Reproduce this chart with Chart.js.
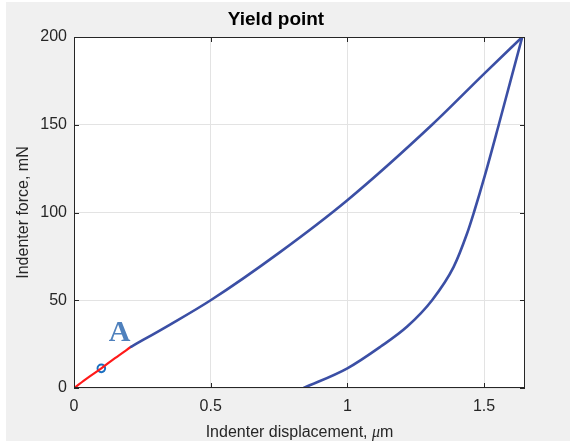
<!DOCTYPE html>
<html>
<head>
<meta charset="utf-8">
<script src="https://cdn.jsdelivr.net/npm/chart.js@4.4.1/dist/chart.umd.min.js"></script>
<style>
  html, body { margin: 0; padding: 0; background: #ffffff; }
  #wrap { width: 570px; height: 444px; position: relative; }
</style>
</head>
<body>
<div id="wrap"><canvas id="c" width="570" height="444"></canvas></div>
<script>
// Indentation load–displacement record (displacement in µm, force in mN)
const loadElasticX = [0, 0.05, 0.1, 0.15, 0.209];
const loadElasticY = [0, 5.8, 11.2, 17.0, 23.5];

const loadPlasticX = [0.209, 0.35, 0.5, 0.75, 1.0, 1.31, 1.5, 1.64];
const loadPlasticY = [23.5, 36, 50, 77, 107, 150, 179, 200];

const unloadX = [0.84, 1.0, 1.121, 1.219, 1.31, 1.389, 1.438, 1.463, 1.503, 1.554, 1.597, 1.64];
const unloadY = [0, 11.2, 23.5, 35, 50, 69, 88, 100, 121, 150, 175, 200];

const yieldX = [0.1];
const yieldY = [11.2];

const xTickValues = [0, 0.5, 1, 1.5];
const yTickValues = [0, 50, 100, 150, 200];

const titleText = 'Yield point';
const yLabelText = 'Indenter force, mN';
const xLabelParts = ['Indenter displacement, ', 'μ', 'm'];
const markerText = 'A';
const markerAt = { x: 0.167, y: 33 };

const toPoints = (xs, ys) => xs.map((x, i) => ({ x: x, y: ys[i] }));

const SANS = "'Liberation Sans', Arial, Helvetica, sans-serif";
const INK = '#262626';

const figurePlugin = {
  id: 'figure',
  beforeDraw(chart) {
    const { ctx, chartArea: a } = chart;
    ctx.save();
    ctx.fillStyle = '#ffffff';
    ctx.fillRect(0, 0, chart.width, chart.height);
    ctx.fillStyle = '#f0f0f0';
    ctx.fillRect(6, 2, chart.width - 6, 439);
    ctx.fillStyle = '#ffffff';
    ctx.fillRect(a.left, a.top, a.right - a.left, a.bottom - a.top);
    ctx.restore();
  },
  afterDraw(chart) {
    const { ctx, chartArea: a } = chart;
    const xs = chart.scales.x, ys = chart.scales.y;
    ctx.save();
    // axes box
    ctx.strokeStyle = INK;
    ctx.lineWidth = 1;
    ctx.strokeRect(Math.round(a.left) + 0.5, Math.round(a.top) + 0.5,
                   Math.round(a.right - a.left) - 1, Math.round(a.bottom - a.top) - 1);
    // inward tick marks on all four sides
    const L = 5;
    ctx.beginPath();
    xTickValues.forEach(v => {
      const px = Math.round(xs.getPixelForValue(v)) + 0.5;
      ctx.moveTo(px, a.bottom); ctx.lineTo(px, a.bottom - L);
      ctx.moveTo(px, a.top); ctx.lineTo(px, a.top + L);
    });
    yTickValues.forEach(v => {
      const py = Math.round(ys.getPixelForValue(v)) + 0.5;
      ctx.moveTo(a.left, py); ctx.lineTo(a.left + L, py);
      ctx.moveTo(a.right, py); ctx.lineTo(a.right - L, py);
    });
    ctx.stroke();

    // title
    ctx.fillStyle = '#000000';
    ctx.font = "bold 19px " + SANS;
    ctx.textAlign = 'center';
    ctx.textBaseline = 'alphabetic';
    ctx.fillText(titleText, 276, 25);

    // y axis label
    ctx.fillStyle = INK;
    ctx.font = "16px " + SANS;
    ctx.save();
    ctx.translate(24, (a.top + a.bottom) / 2);
    ctx.rotate(-Math.PI / 2);
    ctx.textAlign = 'center';
    ctx.textBaseline = 'middle';
    ctx.fillText(yLabelText, 0, 0);
    ctx.restore();

    // x axis label with italic mu
    const fonts = ["16px " + SANS, "italic 16px 'Liberation Serif', 'Times New Roman', serif", "16px " + SANS];
    let widths = xLabelParts.map((t, i) => { ctx.font = fonts[i]; return ctx.measureText(t).width; });
    const total = widths.reduce((s, w) => s + w, 0);
    let x0 = (a.left + a.right) / 2 - total / 2;
    ctx.textAlign = 'left';
    ctx.textBaseline = 'alphabetic';
    xLabelParts.forEach((t, i) => {
      ctx.font = fonts[i];
      ctx.fillText(t, x0, 437);
      x0 += widths[i];
    });

    // point label
    ctx.fillStyle = '#4f81bd';
    ctx.font = "bold 30px 'Liberation Serif', 'Times New Roman', serif";
    ctx.textAlign = 'center';
    ctx.textBaseline = 'alphabetic';
    ctx.fillText(markerText, xs.getPixelForValue(markerAt.x), ys.getPixelForValue(markerAt.y) + 11);
    ctx.restore();
  }
};

const lineDefaults = {
  showLine: true,
  pointRadius: 0,
  pointHoverRadius: 0,
  fill: false,
  cubicInterpolationMode: 'monotone',
  borderCapStyle: 'round',
  borderJoinStyle: 'round'
};

new Chart(document.getElementById('c'), {
  type: 'scatter',
  data: {
    datasets: [
      Object.assign({}, lineDefaults, {
        label: 'Unloading',
        data: toPoints(unloadX, unloadY),
        borderColor: '#3b4fa5',
        borderWidth: 2.6
      }),
      Object.assign({}, lineDefaults, {
        label: 'Loading',
        data: toPoints(loadPlasticX, loadPlasticY),
        borderColor: '#3b4fa5',
        borderWidth: 2.6
      }),
      Object.assign({}, lineDefaults, {
        label: 'Elastic loading',
        data: toPoints(loadElasticX, loadElasticY),
        borderColor: '#ff1a1a',
        borderWidth: 2.2
      }),
      {
        label: 'Yield point',
        data: toPoints(yieldX, yieldY),
        showLine: false,
        pointStyle: 'circle',
        pointRadius: 3.8,
        pointBorderWidth: 2,
        pointBorderColor: '#1a6fc0',
        pointBackgroundColor: 'rgba(0,0,0,0)'
      }
    ]
  },
  options: {
    responsive: false,
    animation: false,
    events: [],
    layout: { padding: { top: 37, right: 45, left: 0, bottom: 0 } },
    plugins: {
      legend: { display: false },
      title: { display: false },
      tooltip: { enabled: false }
    },
    scales: {
      x: {
        type: 'linear',
        min: 0,
        max: 1.65,
        border: { display: false },
        grid: { color: '#e3e3e3', lineWidth: 1, drawTicks: false },
        afterBuildTicks: s => { s.ticks = xTickValues.map(v => ({ value: v })); },
        afterFit: s => { s.height = 56; },
        ticks: {
          padding: 9,
          color: INK,
          font: { family: SANS, size: 16 },
          maxRotation: 0,
          callback: v => String(v)
        }
      },
      y: {
        type: 'linear',
        min: 0,
        max: 200,
        border: { display: false },
        grid: { color: '#e3e3e3', lineWidth: 1, drawTicks: false },
        afterBuildTicks: s => { s.ticks = yTickValues.map(v => ({ value: v })); },
        afterFit: s => { s.width = 74; },
        ticks: {
          padding: 7,
          color: INK,
          font: { family: SANS, size: 16 },
          callback: v => String(v)
        }
      }
    }
  },
  plugins: [figurePlugin]
});
</script>
</body>
</html>
